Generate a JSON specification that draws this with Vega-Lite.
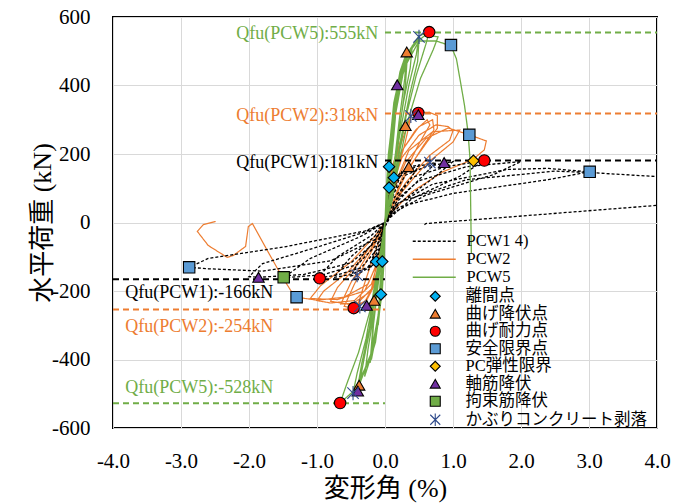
{
"$schema":"https://vega.github.io/schema/vega-lite/v6.json",
"width":544,"height":411,
"autosize":{"type":"none"},
"padding":{"left":113,"top":17,"right":18,"bottom":76},
"background":"white",
"config":{
"view":{"stroke":"black","strokeWidth":2},
"axis":{"grid":true,"gridColor":"#D9D9D9","gridWidth":1,"domain":false,"ticks":false,"labelFont":"Liberation Serif","labelFontSize":21,"labelColor":"black","titleColor":"black","titleFont":"Liberation Serif, Noto Sans CJK JP","titleFontSize":26,"titleFontWeight":"normal","labelFlush":false,"labelOverlap":false}
},
"datasets":{
"curves":[
{"s":"PCW1","i":1,"x":0,"y":0},{"s":"PCW1","i":2,"x":0.05,"y":80},{"s":"PCW1","i":3,"x":0.12,"y":120},{"s":"PCW1","i":4,"x":0.25,"y":150},{"s":"PCW1","i":5,"x":0.15,"y":95},{"s":"PCW1","i":6,"x":0.05,"y":40},{"s":"PCW1","i":7,"x":0,"y":0},{"s":"PCW1","i":8,"x":-0.05,"y":-65},{"s":"PCW1","i":9,"x":-0.13,"y":-112},{"s":"PCW1","i":10,"x":-0.25,"y":-140},{"s":"PCW1","i":11,"x":-0.15,"y":-85},{"s":"PCW1","i":12,"x":-0.05,"y":-30},{"s":"PCW1","i":13,"x":0,"y":0},
{"s":"PCW1","i":14,"x":0.05,"y":70},{"s":"PCW1","i":15,"x":0.15,"y":125},{"s":"PCW1","i":16,"x":0.35,"y":162},{"s":"PCW1","i":17,"x":0.5,"y":168},{"s":"PCW1","i":18,"x":0.35,"y":120},{"s":"PCW1","i":19,"x":0.12,"y":55},{"s":"PCW1","i":20,"x":0,"y":0},{"s":"PCW1","i":21,"x":-0.06,"y":-70},{"s":"PCW1","i":22,"x":-0.18,"y":-125},{"s":"PCW1","i":23,"x":-0.41,"y":-152},{"s":"PCW1","i":24,"x":-0.5,"y":-156},{"s":"PCW1","i":25,"x":-0.35,"y":-100},{"s":"PCW1","i":26,"x":-0.12,"y":-45},{"s":"PCW1","i":27,"x":0,"y":0},
{"s":"PCW1","i":28,"x":0.06,"y":70},{"s":"PCW1","i":29,"x":0.2,"y":132},{"s":"PCW1","i":30,"x":0.45,"y":163},{"s":"PCW1","i":31,"x":0.75,"y":175},{"s":"PCW1","i":32,"x":0.5,"y":125},{"s":"PCW1","i":33,"x":0.15,"y":55},{"s":"PCW1","i":34,"x":0,"y":0},{"s":"PCW1","i":35,"x":-0.08,"y":-75},{"s":"PCW1","i":36,"x":-0.25,"y":-130},{"s":"PCW1","i":37,"x":-0.5,"y":-152},{"s":"PCW1","i":38,"x":-0.75,"y":-160},{"s":"PCW1","i":39,"x":-0.5,"y":-100},{"s":"PCW1","i":40,"x":-0.15,"y":-40},{"s":"PCW1","i":41,"x":0,"y":0},
{"s":"PCW1","i":42,"x":0.08,"y":70},{"s":"PCW1","i":43,"x":0.3,"y":138},{"s":"PCW1","i":44,"x":0.6,"y":163},{"s":"PCW1","i":45,"x":1.0,"y":178},{"s":"PCW1","i":46,"x":0.7,"y":128},{"s":"PCW1","i":47,"x":0.2,"y":55},{"s":"PCW1","i":48,"x":0,"y":0},{"s":"PCW1","i":49,"x":-0.1,"y":-75},{"s":"PCW1","i":50,"x":-0.35,"y":-132},{"s":"PCW1","i":51,"x":-0.7,"y":-153},{"s":"PCW1","i":52,"x":-1.0,"y":-163},{"s":"PCW1","i":53,"x":-0.7,"y":-100},{"s":"PCW1","i":54,"x":-0.2,"y":-38},{"s":"PCW1","i":55,"x":0,"y":0},
{"s":"PCW1","i":56,"x":0.1,"y":65},{"s":"PCW1","i":57,"x":0.4,"y":132},{"s":"PCW1","i":58,"x":0.9,"y":163},{"s":"PCW1","i":59,"x":1.46,"y":181},{"s":"PCW1","i":60,"x":1.1,"y":135},{"s":"PCW1","i":61,"x":0.4,"y":70},{"s":"PCW1","i":62,"x":0.05,"y":10},{"s":"PCW1","i":63,"x":-0.1,"y":-60},{"s":"PCW1","i":64,"x":-0.4,"y":-122},{"s":"PCW1","i":65,"x":-0.9,"y":-152},{"s":"PCW1","i":66,"x":-1.5,"y":-162},{"s":"PCW1","i":67,"x":-1.1,"y":-105},{"s":"PCW1","i":68,"x":-0.35,"y":-40},{"s":"PCW1","i":69,"x":0,"y":0},
{"s":"PCW1","i":70,"x":0.1,"y":55},{"s":"PCW1","i":71,"x":0.5,"y":122},{"s":"PCW1","i":72,"x":1.2,"y":163},{"s":"PCW1","i":73,"x":2.0,"y":178},{"s":"PCW1","i":74,"x":1.6,"y":140},{"s":"PCW1","i":75,"x":0.6,"y":80},{"s":"PCW1","i":76,"x":0.1,"y":25},{"s":"PCW1","i":77,"x":-0.1,"y":-50},{"s":"PCW1","i":78,"x":-0.5,"y":-118},{"s":"PCW1","i":79,"x":-1.2,"y":-152},{"s":"PCW1","i":80,"x":-1.86,"y":-160},{"s":"PCW1","i":81,"x":-2.0,"y":-158},{"s":"PCW1","i":82,"x":-1.8,"y":-120},{"s":"PCW1","i":83,"x":-1.0,"y":-72},{"s":"PCW1","i":84,"x":-0.3,"y":-28},{"s":"PCW1","i":85,"x":0,"y":0},
{"s":"PCW1","i":86,"x":0.15,"y":50},{"s":"PCW1","i":87,"x":0.7,"y":112},{"s":"PCW1","i":88,"x":1.8,"y":155},{"s":"PCW1","i":89,"x":2.4,"y":158},{"s":"PCW1","i":90,"x":3.0,"y":148},{"s":"PCW1","i":91,"x":2.4,"y":125},{"s":"PCW1","i":92,"x":1.0,"y":85},{"s":"PCW1","i":93,"x":0.2,"y":45},{"s":"PCW1","i":94,"x":0.05,"y":10},{"s":"PCW1","i":95,"x":-0.15,"y":-50},{"s":"PCW1","i":96,"x":-0.8,"y":-112},{"s":"PCW1","i":97,"x":-1.8,"y":-142},{"s":"PCW1","i":98,"x":-2.6,"y":-135},{"s":"PCW1","i":99,"x":-2.88,"y":-131},{"s":"PCW1","i":100,"x":-2.6,"y":-105},{"s":"PCW1","i":101,"x":-1.5,"y":-72},{"s":"PCW1","i":102,"x":-0.3,"y":-25},{"s":"PCW1","i":103,"x":0,"y":0},
{"s":"PCW1","i":104,"x":0.2,"y":58},{"s":"PCW1","i":105,"x":1.2,"y":125},{"s":"PCW1","i":106,"x":2.5,"y":150},{"s":"PCW1","i":107,"x":3.0,"y":146},{"s":"PCW1","i":108,"x":4.0,"y":134},{"s":"PCW1","i":109,"x":4.0,"y":50},{"s":"PCW1","i":110,"x":0.6,"y":-3},{"s":"PCW1","i":111,"x":0.56,"y":-10},
{"s":"PCW2","i":1,"x":0,"y":0},{"s":"PCW2","i":2,"x":0.04,"y":90},{"s":"PCW2","i":3,"x":0.1,"y":160},{"s":"PCW2","i":4,"x":0.2,"y":220},{"s":"PCW2","i":5,"x":0.12,"y":140},{"s":"PCW2","i":6,"x":0.04,"y":50},{"s":"PCW2","i":7,"x":0,"y":0},{"s":"PCW2","i":8,"x":-0.03,"y":-80},{"s":"PCW2","i":9,"x":-0.1,"y":-150},{"s":"PCW2","i":10,"x":-0.2,"y":-195},{"s":"PCW2","i":11,"x":-0.12,"y":-120},{"s":"PCW2","i":12,"x":-0.04,"y":-45},{"s":"PCW2","i":13,"x":0,"y":0},
{"s":"PCW2","i":14,"x":0.06,"y":100},{"s":"PCW2","i":15,"x":0.15,"y":190},{"s":"PCW2","i":16,"x":0.3,"y":283},{"s":"PCW2","i":17,"x":0.38,"y":305},{"s":"PCW2","i":18,"x":0.28,"y":220},{"s":"PCW2","i":19,"x":0.15,"y":130},{"s":"PCW2","i":20,"x":0.05,"y":45},{"s":"PCW2","i":21,"x":0,"y":0},{"s":"PCW2","i":22,"x":-0.04,"y":-90},{"s":"PCW2","i":23,"x":-0.12,"y":-170},{"s":"PCW2","i":24,"x":-0.27,"y":-227},{"s":"PCW2","i":25,"x":-0.4,"y":-240},{"s":"PCW2","i":26,"x":-0.28,"y":-165},{"s":"PCW2","i":27,"x":-0.1,"y":-60},{"s":"PCW2","i":28,"x":0,"y":0},
{"s":"PCW2","i":29,"x":0.07,"y":100},{"s":"PCW2","i":30,"x":0.2,"y":210},{"s":"PCW2","i":31,"x":0.38,"y":311},{"s":"PCW2","i":32,"x":0.49,"y":320},{"s":"PCW2","i":33,"x":0.65,"y":322},{"s":"PCW2","i":34,"x":0.77,"y":312},{"s":"PCW2","i":35,"x":0.77,"y":275},{"s":"PCW2","i":36,"x":0.6,"y":230},{"s":"PCW2","i":37,"x":0.35,"y":160},{"s":"PCW2","i":38,"x":0.12,"y":60},{"s":"PCW2","i":39,"x":0,"y":0},{"s":"PCW2","i":40,"x":-0.05,"y":-90},{"s":"PCW2","i":41,"x":-0.15,"y":-180},{"s":"PCW2","i":42,"x":-0.3,"y":-232},{"s":"PCW2","i":43,"x":-0.46,"y":-250},{"s":"PCW2","i":44,"x":-0.6,"y":-245},{"s":"PCW2","i":45,"x":-0.45,"y":-180},{"s":"PCW2","i":46,"x":-0.2,"y":-85},{"s":"PCW2","i":47,"x":0,"y":0},
{"s":"PCW2","i":48,"x":0.08,"y":100},{"s":"PCW2","i":49,"x":0.25,"y":210},{"s":"PCW2","i":50,"x":0.5,"y":280},{"s":"PCW2","i":51,"x":0.7,"y":300},{"s":"PCW2","i":52,"x":0.72,"y":270},{"s":"PCW2","i":53,"x":0.55,"y":220},{"s":"PCW2","i":54,"x":0.3,"y":140},{"s":"PCW2","i":55,"x":0.1,"y":50},{"s":"PCW2","i":56,"x":0,"y":0},{"s":"PCW2","i":57,"x":-0.05,"y":-100},{"s":"PCW2","i":58,"x":-0.18,"y":-190},{"s":"PCW2","i":59,"x":-0.4,"y":-235},{"s":"PCW2","i":60,"x":-0.65,"y":-238},{"s":"PCW2","i":61,"x":-0.5,"y":-175},{"s":"PCW2","i":62,"x":-0.2,"y":-75},{"s":"PCW2","i":63,"x":0,"y":0},
{"s":"PCW2","i":64,"x":0.08,"y":90},{"s":"PCW2","i":65,"x":0.25,"y":190},{"s":"PCW2","i":66,"x":0.5,"y":255},{"s":"PCW2","i":67,"x":0.75,"y":285},{"s":"PCW2","i":68,"x":0.93,"y":280},{"s":"PCW2","i":69,"x":1.0,"y":268},{"s":"PCW2","i":70,"x":0.95,"y":240},{"s":"PCW2","i":71,"x":0.65,"y":195},{"s":"PCW2","i":72,"x":0.3,"y":115},{"s":"PCW2","i":73,"x":0.08,"y":40},{"s":"PCW2","i":74,"x":0,"y":0},{"s":"PCW2","i":75,"x":-0.06,"y":-90},{"s":"PCW2","i":76,"x":-0.2,"y":-180},{"s":"PCW2","i":77,"x":-0.45,"y":-228},{"s":"PCW2","i":78,"x":-0.8,"y":-235},{"s":"PCW2","i":79,"x":-1.0,"y":-228},{"s":"PCW2","i":80,"x":-0.9,"y":-200},{"s":"PCW2","i":81,"x":-0.55,"y":-145},{"s":"PCW2","i":82,"x":-0.15,"y":-55},{"s":"PCW2","i":83,"x":0,"y":0},
{"s":"PCW2","i":83.01,"x":0.08,"y":95},{"s":"PCW2","i":83.02,"x":0.22,"y":200},{"s":"PCW2","i":83.03,"x":0.45,"y":270},{"s":"PCW2","i":83.04,"x":0.62,"y":300},{"s":"PCW2","i":83.05,"x":0.66,"y":285},{"s":"PCW2","i":83.06,"x":0.5,"y":230},{"s":"PCW2","i":83.07,"x":0.25,"y":130},{"s":"PCW2","i":83.08,"x":0.08,"y":40},{"s":"PCW2","i":83.09,"x":0,"y":0},{"s":"PCW2","i":83.1,"x":-0.05,"y":-95},{"s":"PCW2","i":83.11,"x":-0.2,"y":-200},{"s":"PCW2","i":83.12,"x":-0.5,"y":-240},{"s":"PCW2","i":83.13,"x":-0.8,"y":-230},{"s":"PCW2","i":83.14,"x":-0.7,"y":-190},{"s":"PCW2","i":83.15,"x":-0.35,"y":-110},{"s":"PCW2","i":83.16,"x":-0.1,"y":-35},{"s":"PCW2","i":83.17,"x":0,"y":0},
{"s":"PCW2","i":83.2,"x":0.1,"y":90},{"s":"PCW2","i":83.21,"x":0.35,"y":210},{"s":"PCW2","i":83.22,"x":0.7,"y":265},{"s":"PCW2","i":83.23,"x":1.1,"y":270},{"s":"PCW2","i":83.24,"x":1.0,"y":235},{"s":"PCW2","i":83.25,"x":0.6,"y":170},{"s":"PCW2","i":83.26,"x":0.25,"y":90},{"s":"PCW2","i":83.27,"x":0,"y":0},{"s":"PCW2","i":83.28,"x":-0.07,"y":-100},{"s":"PCW2","i":83.29,"x":-0.3,"y":-200},{"s":"PCW2","i":83.3,"x":-0.7,"y":-225},{"s":"PCW2","i":83.31,"x":-1.1,"y":-222},{"s":"PCW2","i":83.32,"x":-0.95,"y":-185},{"s":"PCW2","i":83.33,"x":-0.5,"y":-115},{"s":"PCW2","i":83.34,"x":-0.15,"y":-40},{"s":"PCW2","i":83.35,"x":0,"y":0},
{"s":"PCW2","i":84,"x":0.1,"y":80},{"s":"PCW2","i":85,"x":0.3,"y":175},{"s":"PCW2","i":86,"x":0.6,"y":245},{"s":"PCW2","i":87,"x":0.93,"y":276},{"s":"PCW2","i":88,"x":1.24,"y":256},{"s":"PCW2","i":89,"x":1.49,"y":238},{"s":"PCW2","i":90,"x":1.46,"y":212},{"s":"PCW2","i":91,"x":1.3,"y":185},{"s":"PCW2","i":92,"x":0.85,"y":148},{"s":"PCW2","i":93,"x":0.4,"y":90},{"s":"PCW2","i":94,"x":0.1,"y":30},{"s":"PCW2","i":95,"x":0,"y":0},{"s":"PCW2","i":96,"x":-0.08,"y":-100},{"s":"PCW2","i":97,"x":-0.25,"y":-180},{"s":"PCW2","i":98,"x":-0.6,"y":-218},{"s":"PCW2","i":99,"x":-1.0,"y":-227},{"s":"PCW2","i":100,"x":-1.3,"y":-218},{"s":"PCW2","i":101,"x":-1.36,"y":-207},{"s":"PCW2","i":102,"x":-1.54,"y":-149},{"s":"PCW2","i":103,"x":-1.73,"y":-82},{"s":"PCW2","i":104,"x":-1.95,"y":-3},{"s":"PCW2","i":105,"x":-2.01,"y":-12},{"s":"PCW2","i":106,"x":-2.05,"y":-70},{"s":"PCW2","i":107,"x":-2.23,"y":-96},{"s":"PCW2","i":108,"x":-2.32,"y":-102},{"s":"PCW2","i":109,"x":-2.6,"y":-67},{"s":"PCW2","i":110,"x":-2.76,"y":-26},{"s":"PCW2","i":111,"x":-2.67,"y":-6},{"s":"PCW2","i":112,"x":-2.49,"y":3},
{"s":"PCW5","i":1,"x":0,"y":0},{"s":"PCW5","i":2,"x":0.02,"y":100},{"s":"PCW5","i":3,"x":0.05,"y":200},{"s":"PCW5","i":4,"x":0.08,"y":250},{"s":"PCW5","i":5,"x":0.06,"y":150},{"s":"PCW5","i":6,"x":0.02,"y":40},{"s":"PCW5","i":7,"x":0,"y":0},{"s":"PCW5","i":8,"x":-0.01,"y":-100},{"s":"PCW5","i":9,"x":-0.04,"y":-200},{"s":"PCW5","i":10,"x":-0.03,"y":-120},{"s":"PCW5","i":11,"x":0,"y":0},
{"s":"PCW5","i":12,"x":0.03,"y":100},{"s":"PCW5","i":13,"x":0.07,"y":220},{"s":"PCW5","i":14,"x":0.12,"y":320},{"s":"PCW5","i":15,"x":0.18,"y":400},{"s":"PCW5","i":16,"x":0.15,"y":300},{"s":"PCW5","i":17,"x":0.09,"y":170},{"s":"PCW5","i":18,"x":0.03,"y":50},{"s":"PCW5","i":19,"x":0,"y":0},{"s":"PCW5","i":20,"x":-0.02,"y":-100},{"s":"PCW5","i":21,"x":-0.05,"y":-200},{"s":"PCW5","i":22,"x":-0.1,"y":-300},{"s":"PCW5","i":23,"x":-0.08,"y":-200},{"s":"PCW5","i":24,"x":-0.04,"y":-90},{"s":"PCW5","i":25,"x":0,"y":0},
{"s":"PCW5","i":26,"x":0.03,"y":100},{"s":"PCW5","i":27,"x":0.08,"y":240},{"s":"PCW5","i":28,"x":0.14,"y":350},{"s":"PCW5","i":29,"x":0.22,"y":440},{"s":"PCW5","i":30,"x":0.32,"y":498},{"s":"PCW5","i":31,"x":0.29,"y":420},{"s":"PCW5","i":32,"x":0.21,"y":300},{"s":"PCW5","i":33,"x":0.13,"y":160},{"s":"PCW5","i":34,"x":0.04,"y":40},{"s":"PCW5","i":35,"x":0,"y":0},{"s":"PCW5","i":36,"x":-0.02,"y":-100},{"s":"PCW5","i":37,"x":-0.06,"y":-220},{"s":"PCW5","i":38,"x":-0.12,"y":-320},{"s":"PCW5","i":39,"x":-0.2,"y":-400},{"s":"PCW5","i":40,"x":-0.17,"y":-300},{"s":"PCW5","i":41,"x":-0.1,"y":-180},{"s":"PCW5","i":42,"x":-0.03,"y":-60},{"s":"PCW5","i":43,"x":0,"y":0},
{"s":"PCW5","i":44,"x":0.03,"y":100},{"s":"PCW5","i":45,"x":0.08,"y":240},{"s":"PCW5","i":46,"x":0.15,"y":360},{"s":"PCW5","i":47,"x":0.25,"y":450},{"s":"PCW5","i":48,"x":0.33,"y":490},{"s":"PCW5","i":49,"x":0.3,"y":400},{"s":"PCW5","i":50,"x":0.22,"y":280},{"s":"PCW5","i":51,"x":0.12,"y":130},{"s":"PCW5","i":52,"x":0.03,"y":20},{"s":"PCW5","i":53,"x":0,"y":0},{"s":"PCW5","i":54,"x":-0.02,"y":-100},{"s":"PCW5","i":55,"x":-0.07,"y":-230},{"s":"PCW5","i":56,"x":-0.13,"y":-330},{"s":"PCW5","i":57,"x":-0.22,"y":-410},{"s":"PCW5","i":58,"x":-0.18,"y":-310},{"s":"PCW5","i":59,"x":-0.1,"y":-170},{"s":"PCW5","i":60,"x":-0.02,"y":-40},{"s":"PCW5","i":61,"x":0,"y":0},
{"s":"PCW5","i":61.01,"x":0.03,"y":100},{"s":"PCW5","i":61.02,"x":0.07,"y":230},{"s":"PCW5","i":61.03,"x":0.13,"y":350},{"s":"PCW5","i":61.04,"x":0.24,"y":450},{"s":"PCW5","i":61.05,"x":0.4,"y":515},{"s":"PCW5","i":61.06,"x":0.37,"y":450},{"s":"PCW5","i":61.07,"x":0.27,"y":350},{"s":"PCW5","i":61.08,"x":0.16,"y":210},{"s":"PCW5","i":61.09,"x":0.07,"y":80},{"s":"PCW5","i":61.1,"x":0,"y":0},{"s":"PCW5","i":61.11,"x":-0.02,"y":-100},{"s":"PCW5","i":61.12,"x":-0.06,"y":-230},{"s":"PCW5","i":61.13,"x":-0.14,"y":-350},{"s":"PCW5","i":61.14,"x":-0.3,"y":-450},{"s":"PCW5","i":61.15,"x":-0.25,"y":-370},{"s":"PCW5","i":61.16,"x":-0.15,"y":-250},{"s":"PCW5","i":61.17,"x":-0.06,"y":-110},{"s":"PCW5","i":61.18,"x":0,"y":0},
{"s":"PCW5","i":62,"x":0.04,"y":110},{"s":"PCW5","i":63,"x":0.09,"y":250},{"s":"PCW5","i":64,"x":0.16,"y":370},{"s":"PCW5","i":65,"x":0.3,"y":480},{"s":"PCW5","i":66,"x":0.5,"y":542},{"s":"PCW5","i":67,"x":0.46,"y":490},{"s":"PCW5","i":68,"x":0.35,"y":400},{"s":"PCW5","i":69,"x":0.22,"y":260},{"s":"PCW5","i":70,"x":0.11,"y":120},{"s":"PCW5","i":71,"x":0.03,"y":20},{"s":"PCW5","i":72,"x":0,"y":0},{"s":"PCW5","i":73,"x":-0.03,"y":-110},{"s":"PCW5","i":74,"x":-0.08,"y":-250},{"s":"PCW5","i":75,"x":-0.16,"y":-360},{"s":"PCW5","i":76,"x":-0.38,"y":-475},{"s":"PCW5","i":77,"x":-0.31,"y":-400},{"s":"PCW5","i":78,"x":-0.21,"y":-300},{"s":"PCW5","i":79,"x":-0.11,"y":-170},{"s":"PCW5","i":80,"x":-0.02,"y":-40},{"s":"PCW5","i":81,"x":0,"y":0},
{"s":"PCW5","i":82,"x":0.04,"y":110},{"s":"PCW5","i":83,"x":0.1,"y":260},{"s":"PCW5","i":84,"x":0.18,"y":380},{"s":"PCW5","i":85,"x":0.33,"y":490},{"s":"PCW5","i":86,"x":0.5,"y":535},{"s":"PCW5","i":87,"x":0.48,"y":470},{"s":"PCW5","i":88,"x":0.37,"y":380},{"s":"PCW5","i":89,"x":0.24,"y":250},{"s":"PCW5","i":90,"x":0.12,"y":110},{"s":"PCW5","i":91,"x":0.03,"y":15},{"s":"PCW5","i":92,"x":0,"y":0},{"s":"PCW5","i":93,"x":-0.03,"y":-110},{"s":"PCW5","i":94,"x":-0.09,"y":-260},{"s":"PCW5","i":95,"x":-0.18,"y":-370},{"s":"PCW5","i":96,"x":-0.4,"y":-478},{"s":"PCW5","i":97,"x":-0.34,"y":-410},{"s":"PCW5","i":98,"x":-0.23,"y":-310},{"s":"PCW5","i":99,"x":-0.12,"y":-170},{"s":"PCW5","i":100,"x":-0.03,"y":-40},{"s":"PCW5","i":101,"x":0,"y":0},
{"s":"PCW5","i":102,"x":0.05,"y":120},{"s":"PCW5","i":103,"x":0.1,"y":260},{"s":"PCW5","i":104,"x":0.2,"y":390},{"s":"PCW5","i":105,"x":0.35,"y":500},{"s":"PCW5","i":106,"x":0.5,"y":545},{"s":"PCW5","i":107,"x":0.65,"y":556},{"s":"PCW5","i":108,"x":0.6,"y":520},{"s":"PCW5","i":109,"x":0.46,"y":430},{"s":"PCW5","i":110,"x":0.31,"y":310},{"s":"PCW5","i":111,"x":0.19,"y":180},{"s":"PCW5","i":112,"x":0.08,"y":60},{"s":"PCW5","i":113,"x":0,"y":0},{"s":"PCW5","i":114,"x":-0.03,"y":-110},{"s":"PCW5","i":115,"x":-0.09,"y":-260},{"s":"PCW5","i":116,"x":-0.18,"y":-380},{"s":"PCW5","i":117,"x":-0.47,"y":-498},{"s":"PCW5","i":118,"x":-0.41,"y":-440},{"s":"PCW5","i":119,"x":-0.28,"y":-340},{"s":"PCW5","i":120,"x":-0.16,"y":-210},{"s":"PCW5","i":121,"x":-0.05,"y":-70},{"s":"PCW5","i":122,"x":0,"y":0},
{"s":"PCW5","i":123,"x":0.05,"y":120},{"s":"PCW5","i":124,"x":0.12,"y":280},{"s":"PCW5","i":125,"x":0.24,"y":420},{"s":"PCW5","i":126,"x":0.42,"y":520},{"s":"PCW5","i":127,"x":0.6,"y":548},{"s":"PCW5","i":128,"x":0.78,"y":542},{"s":"PCW5","i":129,"x":0.71,"y":505},{"s":"PCW5","i":130,"x":0.52,"y":420},{"s":"PCW5","i":131,"x":0.34,"y":300},{"s":"PCW5","i":132,"x":0.2,"y":170},{"s":"PCW5","i":133,"x":0.09,"y":50},{"s":"PCW5","i":134,"x":0,"y":0},{"s":"PCW5","i":135,"x":-0.04,"y":-120},{"s":"PCW5","i":136,"x":-0.1,"y":-270},{"s":"PCW5","i":137,"x":-0.22,"y":-400},{"s":"PCW5","i":138,"x":-0.45,"y":-490},{"s":"PCW5","i":139,"x":-0.66,"y":-527},{"s":"PCW5","i":140,"x":-0.56,"y":-470},{"s":"PCW5","i":141,"x":-0.39,"y":-380},{"s":"PCW5","i":142,"x":-0.21,"y":-250},{"s":"PCW5","i":143,"x":-0.08,"y":-100},{"s":"PCW5","i":144,"x":0,"y":0},
{"s":"PCW5","i":145,"x":0.05,"y":120},{"s":"PCW5","i":146,"x":0.14,"y":300},{"s":"PCW5","i":147,"x":0.28,"y":450},{"s":"PCW5","i":148,"x":0.5,"y":530},{"s":"PCW5","i":149,"x":0.75,"y":530},{"s":"PCW5","i":150,"x":0.97,"y":516},{"s":"PCW5","i":151,"x":1.05,"y":478},{"s":"PCW5","i":152,"x":1.12,"y":399},{"s":"PCW5","i":153,"x":1.17,"y":341},{"s":"PCW5","i":154,"x":1.22,"y":265},{"s":"PCW5","i":155,"x":1.25,"y":186},{"s":"PCW5","i":156,"x":1.26,"y":50},{"s":"PCW5","i":157,"x":1.27,"y":-90}
],
"refs":[
{"s":"PCW1","x":0,"x2":4,"y":181,"label":"Qfu(PCW1):181kN"},
{"s":"PCW1","x":-4,"x2":0,"y":-166,"label":"Qfu(PCW1):-166kN"},
{"s":"PCW2","x":0,"x2":4,"y":318,"label":"Qfu(PCW2):318kN"},
{"s":"PCW2","x":-4,"x2":0,"y":-254,"label":"Qfu(PCW2):-254kN"},
{"s":"PCW5","x":0,"x2":4,"y":555,"label":"Qfu(PCW5):555kN"},
{"s":"PCW5","x":-4,"x2":0,"y":-528,"label":"Qfu(PCW5):-528kN"}
],
"marks":[
{"t":"離間点","x":0.06,"y":163},{"t":"離間点","x":0.13,"y":131},{"t":"離間点","x":0.06,"y":102},{"t":"離間点","x":-0.13,"y":-114},{"t":"離間点","x":-0.04,"y":-114},{"t":"離間点","x":-0.06,"y":-210},
{"t":"曲げ降伏点","x":0.32,"y":498},{"t":"曲げ降伏点","x":0.3,"y":283},{"t":"曲げ降伏点","x":0.35,"y":163},{"t":"曲げ降伏点","x":-0.16,"y":-227},{"t":"曲げ降伏点","x":-0.38,"y":-475},
{"t":"曲げ耐力点","x":0.65,"y":556},{"t":"曲げ耐力点","x":0.49,"y":320},{"t":"曲げ耐力点","x":1.46,"y":181},{"t":"曲げ耐力点","x":-0.96,"y":-163},{"t":"曲げ耐力点","x":-0.46,"y":-250},{"t":"曲げ耐力点","x":-0.66,"y":-527},
{"t":"安全限界点","x":0.97,"y":518},{"t":"安全限界点","x":1.24,"y":256},{"t":"安全限界点","x":3.01,"y":148},{"t":"安全限界点","x":-2.88,"y":-131},{"t":"安全限界点","x":-1.3,"y":-218},
{"t":"PC弾性限界","x":1.3,"y":180},
{"t":"軸筋降伏","x":0.18,"y":402},{"t":"軸筋降伏","x":0.49,"y":315},{"t":"軸筋降伏","x":0.87,"y":175},{"t":"軸筋降伏","x":-1.86,"y":-160},{"t":"軸筋降伏","x":-0.27,"y":-242},{"t":"軸筋降伏","x":-0.4,"y":-492},
{"t":"拘束筋降伏","x":-1.49,"y":-160},
{"t":"かぶりコンクリート剥落","x":0.5,"y":542},{"t":"かぶりコンクリート剥落","x":0.38,"y":311},{"t":"かぶりコンクリート剥落","x":0.66,"y":175},{"t":"かぶりコンクリート剥落","x":-0.41,"y":-154},{"t":"かぶりコンクリート剥落","x":-0.37,"y":-245},{"t":"かぶりコンクリート剥落","x":-0.47,"y":-498}
]
},
"layer":[
{"data":{"name":"curves"},"transform":[{"filter":"datum.s == 'PCW2'"}],
"mark":{"type":"line","strokeWidth":1.2,"clip":true},
"encoding":{
"x":{"field":"x","type":"quantitative","scale":{"domain":[-4,4],"nice":false,"zero":false},"axis":{"values":[-4,-3.5,-3,-2.5,-2,-1.5,-1,-0.5,0,0.5,1,1.5,2,2.5,3,3.5,4],"labelExpr":"datum.value % 1 === 0 ? (datum.value + '.0') : ''","title":"変形角 (%)","labelFont":"Liberation Serif","labelFontSize":21,"titleFont":"Liberation Serif, Noto Sans CJK JP","labelPadding":22,"titlePadding":4}},
"y":{"field":"y","type":"quantitative","scale":{"domain":[-600,600],"nice":false},"axis":{"values":[-600,-400,-200,0,200,400,600],"labelExpr":"datum.value + ''","title":"水平荷重 (kN)","labelFont":"Liberation Serif","labelFontSize":21,"titleFont":"Liberation Serif, Noto Sans CJK JP","labelPadding":23,"titlePadding":-4}},
"order":{"field":"i","type":"quantitative"},
"color":{"field":"s","type":"nominal","scale":{"domain":["PCW1","PCW2","PCW5"],"range":["#000000","#ED7D31","#70AD47"]},"legend":{"orient":"none","legendX":313,"legendY":216,"title":null,"symbolType":"M-4.3,0L4.3,0","symbolSize":100,"symbolStrokeWidth":1.5,"labelOffset":24,"labelExpr":"datum.label == 'PCW1' ? 'PCW1 4)' : datum.label","labelFont":"Liberation Serif","labelFontSize":16.5,"labelColor":"black","rowPadding":1,"padding":0}},
"strokeDash":{"field":"s","type":"nominal","scale":{"domain":["PCW1","PCW2","PCW5"],"range":[[3,2],[1,0],[1,0]]},"legend":{"orient":"none","legendX":313,"legendY":216,"title":null,"symbolType":"M-4.3,0L4.3,0","symbolSize":100,"symbolStrokeWidth":1.5,"labelOffset":24,"labelExpr":"datum.label == 'PCW1' ? 'PCW1 4)' : datum.label","labelFont":"Liberation Serif","labelFontSize":16.5,"labelColor":"black","rowPadding":1,"padding":0}}
}},
{"data":{"name":"curves"},"transform":[{"filter":"datum.s == 'PCW1'"}],
"mark":{"type":"line","strokeWidth":1.3,"clip":true},
"encoding":{"x":{"field":"x","type":"quantitative"},"y":{"field":"y","type":"quantitative"},"order":{"field":"i","type":"quantitative"},"color":{"field":"s","type":"nominal"},"strokeDash":{"field":"s","type":"nominal"}}},
{"data":{"name":"curves"},"transform":[{"filter":"datum.s == 'PCW5'"}],
"mark":{"type":"line","strokeWidth":1.3,"clip":true},
"encoding":{"x":{"field":"x","type":"quantitative"},"y":{"field":"y","type":"quantitative"},"order":{"field":"i","type":"quantitative"},"color":{"field":"s","type":"nominal"},"strokeDash":{"field":"s","type":"nominal"}}},
{"data":{"name":"refs"},
"mark":{"type":"rule","strokeWidth":2,"strokeDash":[6,4]},
"encoding":{"x":{"field":"x","type":"quantitative"},"x2":{"field":"x2"},"y":{"field":"y","type":"quantitative"},"color":{"field":"s","type":"nominal"}}},
{"data":{"name":"refs"},"transform":[{"filter":"datum.y > 0"}],
"mark":{"type":"text","align":"right","baseline":"middle","dy":2,"font":"Liberation Serif","fontSize":18},
"encoding":{"x":{"datum":-0.1,"type":"quantitative"},"y":{"field":"y","type":"quantitative"},"text":{"field":"label"},"color":{"field":"s","type":"nominal"}}},
{"data":{"name":"refs"},"transform":[{"filter":"datum.y == -166"}],
"mark":{"type":"text","align":"left","baseline":"middle","dy":14,"font":"Liberation Serif","fontSize":18},
"encoding":{"x":{"datum":-3.82,"type":"quantitative"},"y":{"field":"y","type":"quantitative"},"text":{"field":"label"},"color":{"field":"s","type":"nominal"}}},
{"data":{"name":"refs"},"transform":[{"filter":"datum.y == -254"}],
"mark":{"type":"text","align":"left","baseline":"middle","dy":18,"font":"Liberation Serif","fontSize":18},
"encoding":{"x":{"datum":-3.82,"type":"quantitative"},"y":{"field":"y","type":"quantitative"},"text":{"field":"label"},"color":{"field":"s","type":"nominal"}}},
{"data":{"name":"refs"},"transform":[{"filter":"datum.y == -528"}],
"mark":{"type":"text","align":"left","baseline":"middle","dy":-15,"font":"Liberation Serif","fontSize":18},
"encoding":{"x":{"datum":-3.82,"type":"quantitative"},"y":{"field":"y","type":"quantitative"},"text":{"field":"label"},"color":{"field":"s","type":"nominal"}}},
{"data":{"name":"marks"},
"mark":{"type":"point","filled":true,"size":130,"strokeWidth":1.1,"opacity":1},
"encoding":{"x":{"field":"x","type":"quantitative"},"y":{"field":"y","type":"quantitative"},
"shape":{"field":"t","type":"nominal","scale":{"domain":["離間点","曲げ降伏点","曲げ耐力点","安全限界点","PC弾性限界","軸筋降伏","拘束筋降伏","かぶりコンクリート剥落"],"range":["diamond","triangle-up","circle","square","diamond","triangle-up","square","M-1,-1L1,1M1,-1L-1,1M0,-1.25L0,1.25"]},"legend":{"orient":"none","legendX":314,"legendY":271,"title":null,"labelFont":"Liberation Serif, Noto Sans CJK JP","labelFontSize":16.5,"labelColor":"black","labelOffset":22,"labelLimit":300,"rowPadding":0.5,"padding":0,"symbolStrokeWidth":1.1,"symbolSize":100}},
"fill":{"field":"t","type":"nominal","scale":{"domain":["離間点","曲げ降伏点","曲げ耐力点","安全限界点","PC弾性限界","軸筋降伏","拘束筋降伏","かぶりコンクリート剥落"],"range":["#00B0F0","#ED7D31","#FF0000","#5B9BD5","#FFC000","#7030A0","#70AD47","#2E4A8B"]},"legend":{"orient":"none","legendX":314,"legendY":271,"title":null,"labelFont":"Liberation Serif, Noto Sans CJK JP","labelFontSize":16.5,"labelColor":"black","labelOffset":22,"labelLimit":300,"rowPadding":0.5,"padding":0,"symbolStrokeWidth":1.1,"symbolSize":100}},
"stroke":{"field":"t","type":"nominal","scale":{"domain":["離間点","曲げ降伏点","曲げ耐力点","安全限界点","PC弾性限界","軸筋降伏","拘束筋降伏","かぶりコンクリート剥落"],"range":["#000000","#000000","#000000","#000000","#000000","#000000","#000000","#2E4A8B"]},"legend":{"orient":"none","legendX":314,"legendY":271,"title":null,"labelFont":"Liberation Serif, Noto Sans CJK JP","labelFontSize":16.5,"labelColor":"black","labelOffset":22,"labelLimit":300,"rowPadding":0.5,"padding":0,"symbolStrokeWidth":1.1,"symbolSize":100}}
}}
]
}
